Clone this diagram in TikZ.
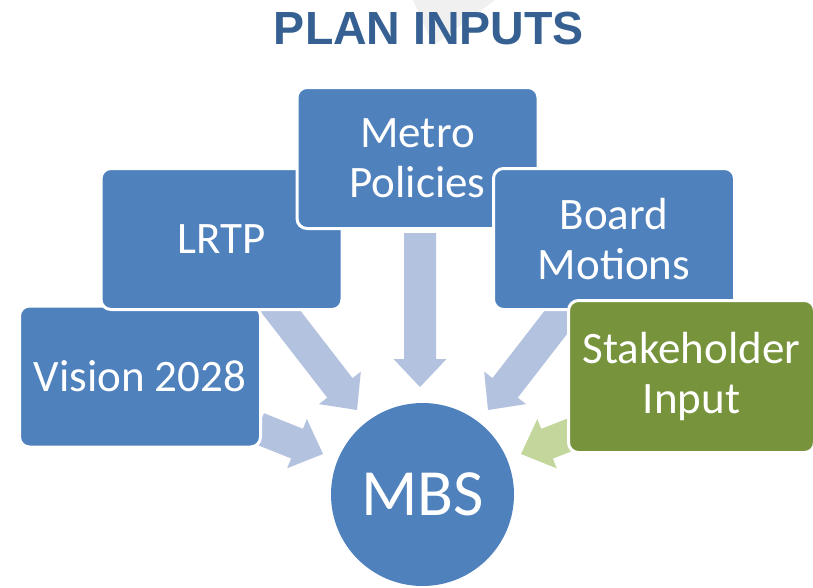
\documentclass[tikz,border=0pt]{standalone}
\usepackage{fontspec}
\setmainfont{Carlito}
\newfontfamily\titlefont{Liberation Sans}
\usetikzlibrary{calc}

\definecolor{boxblue}{HTML}{4F81BD}
\definecolor{flowblue}{HTML}{B3C2DE}
\definecolor{boxgreen}{HTML}{77933C}
\definecolor{flowgreen}{HTML}{C3D69B}
\definecolor{titleblue}{HTML}{366092}

% block arrow from #2 to #3 (tip), filled with #1
\newcommand{\blockarrow}[3]{%
  \fill[#1]
    ($(#2)!16pt!90:(#3)$) --
    ($($(#3)!28pt!(#2)$)!16pt!90:(#3)$) --
    ($($(#3)!28pt!(#2)$)!26.5pt!90:(#3)$) --
    (#3) --
    ($($(#3)!28pt!(#2)$)!26.5pt!-90:(#3)$) --
    ($($(#3)!28pt!(#2)$)!16pt!-90:(#3)$) --
    ($(#2)!16pt!-90:(#3)$) -- cycle;}

\begin{document}
\begin{tikzpicture}[x=1pt,y=-1pt,
  inputbox/.style={rectangle, rounded corners=10pt, draw=white, line width=3pt,
    fill=boxblue, text=white, align=center, inner sep=0pt,
    minimum width=241pt, minimum height=141pt,
    font=\fontsize{45}{50}\selectfont},
  hubcircle/.style={circle, fill=boxblue, text=white, inner sep=0pt,
    minimum size=183pt, font=\fontsize{66}{70}\selectfont}]

\useasboundingbox (0,0) rectangle (813,587);

% faint mark behind the heading
\fill[black!6] (413,0) -- (495,0) -- (433,46) -- cycle;

\node[anchor=base, text=titleblue, font=\titlefont\bfseries\fontsize{46.5}{50}\selectfont]
  (title) at (429,44) {PLAN INPUTS};

% arrow end points
\coordinate (vstart) at (258,428);
\coordinate (vtip)   at (323,454);
\coordinate (lstart) at (268,295);
\coordinate (ltip)   at (357,410);
\coordinate (mstart) at (420,233);
\coordinate (mtip)   at (420,387);
\coordinate (bstart) at (577,295);
\coordinate (btip)   at (488,410);
\coordinate (sstart) at (587,428);
\coordinate (stip)   at (521,454);

\blockarrow{flowblue}{vstart}{vtip}
\blockarrow{flowblue}{lstart}{ltip}
\blockarrow{flowblue}{mstart}{mtip}
\blockarrow{flowblue}{bstart}{btip}
\blockarrow{flowgreen}{sstart}{stip}

% input boxes, back to front
\node[inputbox] (vision) at (140,376.5) {Vision 2028};
\node[inputbox] (lrtp)   at (221.5,239) {LRTP};
\node[inputbox] (metro)  at (417.5,158) {Metro\\Policies};
\node[inputbox] (board)  at (614,239) {Board\\Motions};
\node[inputbox, fill=boxgreen, minimum width=246pt, minimum height=152pt]
  (stake) at (691.5,376.5) {Stakeholder\\Input};

\node[hubcircle] (mbs) at (422.5,494.5) {MBS};
\end{tikzpicture}
\end{document}
